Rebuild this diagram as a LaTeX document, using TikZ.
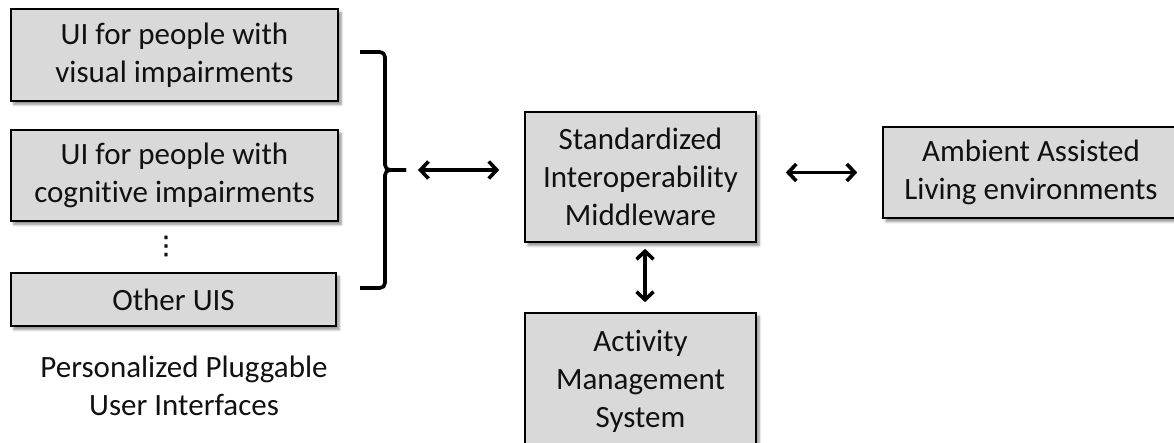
\documentclass[tikz,border=0pt]{standalone}
\usepackage{fontspec}
\setmainfont{Carlito}[RawFeature=-liga]
\newfontfamily\symfont{DejaVu Sans}[FakeBold=1.5]
\usetikzlibrary{arrows.meta,shadows.blur}
\definecolor{boxgray}{HTML}{D9D9D9}
\definecolor{inkcol}{HTML}{111111}
\tikzset{
  box/.style={draw=black, line width=1.6pt, fill=boxgray, align=center,
    text=inkcol, inner sep=0pt, font=\fontsize{31}{38}\selectfont,
    blur shadow={shadow xshift=3pt, shadow yshift=-3.5pt, shadow blur steps=6,
      shadow blur radius=2.5pt, shadow opacity=45}},
  plain/.style={align=center, text=inkcol, inner sep=0pt,
    font=\fontsize{31}{38}\selectfont},
  link/.style={line width=3.6pt,
    {Straight Barb[length=8pt,width=17pt,line width=3.6pt]}-{Straight Barb[length=8pt,width=17pt,line width=3.6pt]}},
  brace/.style={line width=3.6pt, rounded corners=5pt}
}
\begin{document}
\begin{tikzpicture}[x=1pt,y=-1pt]
  \useasboundingbox (0,0) rectangle (1174,443);
  \clip (0,0) rectangle (1174,443);

  % pluggable user interfaces
  \node[box, minimum width=327pt, minimum height=92pt] (vis) at (174.5,55)
    {UI for people with\\visual impairments};
  \node[box, minimum width=327pt, minimum height=91pt] (cog) at (174.5,175.5)
    {UI for people with\\cognitive impairments};
  \node[plain, font=\symfont\fontsize{25}{25}\selectfont] (dots) at (166,246) {⋮};
  \node[box, minimum width=325pt, minimum height=53pt] (oth) at (173.5,299.5)
    {Other UIS};
  \node[plain] (ppui) at (184,386) {Personalized Pluggable\\User Interfaces};

  % brace grouping the interfaces
  \coordinate (btop) at (360,52);
  \coordinate (bbot) at (360,288);
  \coordinate (btip) at (406,170);
  \draw[brace] (btop) -- (385,52) -- (385,170) -- (btip);
  \draw[brace] (bbot) -- (385,288) -- (385,170) -- (btip);

  % middleware and its neighbours
  \node[box, minimum width=231pt, minimum height=130pt] (mid) at (640.5,177)
    {Standardized\\Interoperability\\Middleware};
  \node[box, minimum width=296pt, minimum height=91pt] (aal) at (1031,172.5)
    {Ambient Assisted\\Living environments};
  \node[box, minimum width=231pt, minimum height=137pt] (act) at (640.5,381.5)
    {Activity\\Management\\System};

  % connections
  \draw[link, shorten <=12pt, shorten >=25pt] (btip) -- (btip -| mid.west);
  \draw[link, shorten <=29pt, shorten >=25pt] (mid.east |- aal.west) -- (aal.west);
  \draw[link, shorten <=6pt, shorten >=10pt] ([xshift=4.5pt]mid.south) -- ([xshift=4.5pt]act.north);
\end{tikzpicture}
\end{document}
